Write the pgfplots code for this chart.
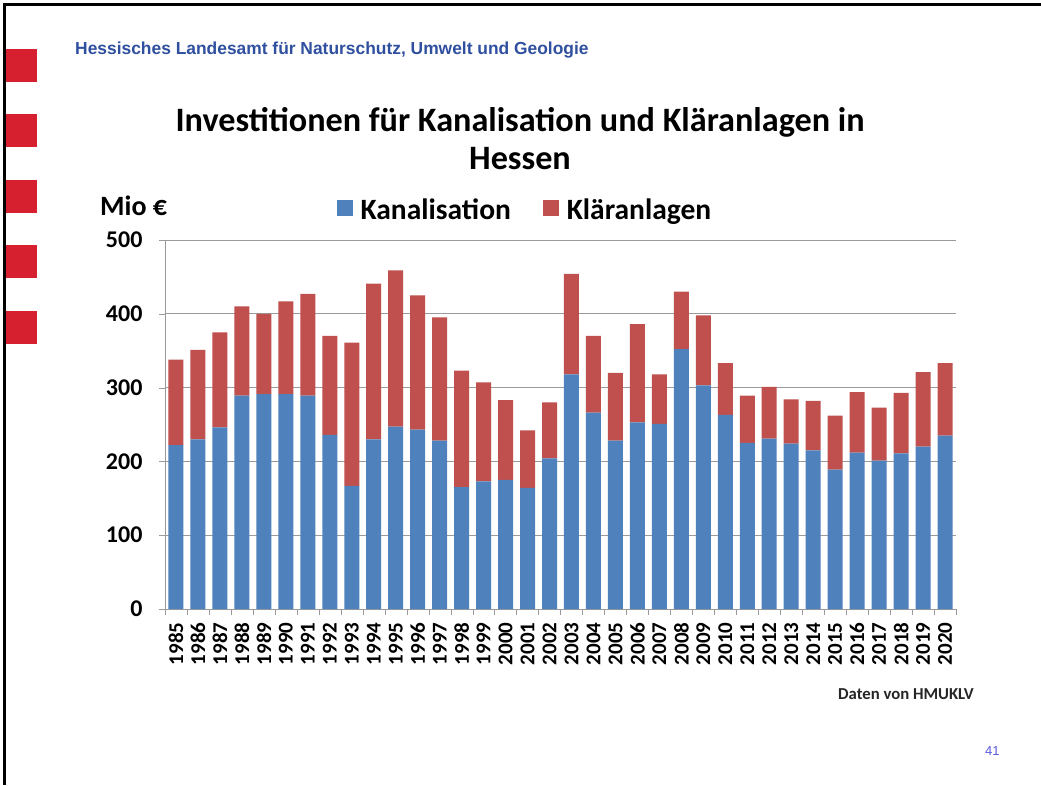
\documentclass[border=0pt]{standalone}
\usepackage{fontspec}
\setmainfont{Carlito}
\newfontfamily\arialfont{Liberation Sans}
\usepackage{pgfplots}
\usepackage{pgfplotstable}
\pgfplotsset{compat=1.18}
\definecolor{kblue}{HTML}{4F81BD}
\definecolor{kred}{HTML}{C0504D}
\definecolor{sqred}{HTML}{D7202F}
\definecolor{hdrblue}{HTML}{2F4F9F}
\definecolor{numblue}{HTML}{5A5ADC}
\definecolor{gridgray}{HTML}{9A9A9A}

\pgfplotstableread{
idx year K KL
0 1985 222 116
1 1986 230 121
2 1987 246 129
3 1988 289 121
4 1989 291 109
5 1990 291 126
6 1991 289 138
7 1992 236 134
8 1993 167 194
9 1994 230 211
10 1995 247 212
11 1996 243 182
12 1997 228 167
13 1998 165 158
14 1999 173 134
15 2000 175 108
16 2001 164 78
17 2002 204 76
18 2003 318 136
19 2004 266 104
20 2005 228 92
21 2006 253 133
22 2007 251 67
23 2008 352 78
24 2009 303 95
25 2010 263 70
26 2011 225 64
27 2012 231 70
28 2013 224 60
29 2014 215 67
30 2015 189 73
31 2016 212 82
32 2017 201 72
33 2018 211 82
34 2019 220 101
35 2020 235 98
}\data

\begin{document}
\begin{tikzpicture}[x=1pt,y=1pt]
\fill[white] (0,0) rectangle (1041,785);
\fill[black] (3,0) rectangle (6,782);
\fill[black] (3,779) rectangle (1041,782);
\foreach \yb in {703,638,572,507,441}{\fill[sqred] (6,\yb) rectangle (37,\yb+33);}
\node[anchor=base west, inner sep=0pt, text=hdrblue] at (75,730) {\arialfont\bfseries\fontsize{17.4}{20}\selectfont Hessisches Landesamt für Naturschutz, Umwelt und Geologie};
\node[anchor=base, inner sep=0pt] at (520,653) {\bfseries\fontsize{34.2}{38}\selectfont Investitionen für Kanalisation und Kläranlagen in};
\node[anchor=base, inner sep=0pt] at (520,615) {\bfseries\fontsize{34.2}{38}\selectfont Hessen};
\node[anchor=base west, inner sep=0pt] at (100,569) {\bfseries\fontsize{28}{30}\selectfont Mio €};
\node[anchor=base west, inner sep=0pt, text=black!85] at (838,86) {\bfseries\fontsize{16.7}{19}\selectfont Daten von HMUKLV};
\node[anchor=base west, inner sep=0pt, text=numblue] at (985,30) {\arialfont\fontsize{13}{15}\selectfont 41};
\begin{axis}[
  scale only axis, width=791pt, height=369pt,
  at={(165pt,176pt)}, anchor=south west,
  ybar stacked, bar width=15pt,
  xmin=-0.5, xmax=35.5, ymin=0, ymax=500,
  ytick={0,100,...,500},
  xtick={0,...,35},
  xticklabels from table={\data}{year},
  x tick label style={rotate=90, anchor=east, font=\bfseries\fontsize{21}{22}\selectfont},
  yticklabel style={font=\bfseries\fontsize{24}{25}\selectfont},
  /pgf/number format/assume math mode=true,
  major x tick style={draw=none},
  minor xtick={-0.5,0.5,...,35.5},
  minor x tick style={gridgray},
  y tick style={gridgray},
  tick align=outside, major tick length=6pt, minor tick length=6pt,
  axis x line*=bottom, axis y line*=left,
  axis line style={gridgray, line width=0.8pt},
  ymajorgrids, grid style={gridgray, line width=0.8pt},
  xticklabel shift=4pt, yticklabel shift=13pt,
  legend columns=2,
  legend style={draw=none, fill=none, at={(0.455,1.081)}, anchor=center,
    font=\bfseries\fontsize{29.5}{31}\selectfont,
    /tikz/every even column/.append style={column sep=30pt}},
  legend image code/.code={\fill[#1] (0pt,-6pt) rectangle (16pt,10pt);\path (22pt,0pt);},
]
\addplot[fill=kblue, draw=none] table[x=idx, y=K] {\data};
\addplot[fill=kred, draw=none] table[x=idx, y=KL] {\data};
\legend{Kanalisation, Kläranlagen}
\end{axis}
\end{tikzpicture}
\end{document}
